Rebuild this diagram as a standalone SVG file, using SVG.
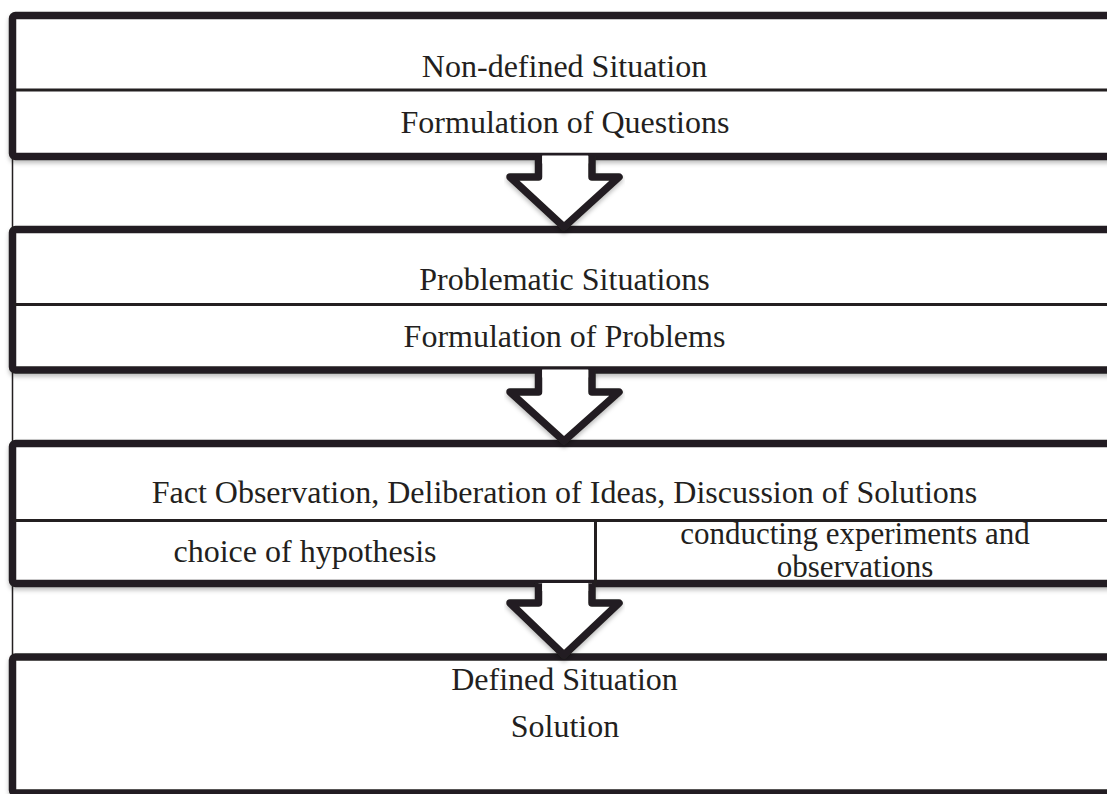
<svg xmlns="http://www.w3.org/2000/svg" width="1107" height="794" viewBox="0 0 1107 794">
<defs>
<filter id="sh" x="-5%" y="-5%" width="110%" height="120%">
<feDropShadow dx="0" dy="3" stdDeviation="2" flood-color="#000" flood-opacity="0.25"/>
</filter>
<style>
.box{fill:#fff;stroke:#231f20;stroke-width:7.5;stroke-linejoin:round;filter:url(#sh)}
.div{stroke:#231f20;stroke-width:3;fill:none}
.arrow{fill:#fff;stroke:#231f20;stroke-width:7.5;stroke-linejoin:round;filter:url(#sh)}
.cover{fill:#fff;stroke:none}
.t{font-family:"Liberation Serif","Times New Roman",serif;font-size:32px;fill:#231f20;text-anchor:middle}
.ts{font-size:31px}
.thin{stroke:#231f20;stroke-width:1.5}
</style>
</defs>
<rect width="1107" height="794" fill="#fff"/>
<line class="thin" x1="12.5" y1="15" x2="12.5" y2="792"/>
<g id="node1">
<rect class="box" x="12.5" y="15.5" width="1110" height="141" rx="3"/>
<line class="div" x1="14" y1="90" x2="1107" y2="90"/>
<text class="t" x="564.5" y="77">Non-defined Situation</text>
<text class="t" x="565" y="133">Formulation of Questions</text>
</g>
<g id="node2">
<rect class="box" x="12.5" y="229.5" width="1110" height="140.5" rx="3"/>
<line class="div" x1="14" y1="304.5" x2="1107" y2="304.5"/>
<text class="t" x="564.5" y="290">Problematic Situations</text>
<text class="t" x="564.5" y="347">Formulation of Problems</text>
</g>
<g id="node3">
<rect class="box" x="12.5" y="443.5" width="1110" height="140" rx="3"/>
<line class="div" x1="14" y1="520.5" x2="1107" y2="520.5"/>
<line class="div" x1="595.5" y1="519" x2="595.5" y2="583"/>
<text class="t" x="564.5" y="503">Fact Observation, Deliberation of Ideas, Discussion of Solutions</text>
<text class="t" x="305" y="562">choice of hypothesis</text>
<text class="t ts" x="855" y="544">conducting experiments and</text>
<text class="t ts" x="855" y="577">observations</text>
</g>
<g id="node4">
<rect class="box" x="12.5" y="657" width="1110" height="136" rx="3"/>
<text class="t" x="564.5" y="690">Defined Situation</text>
<text class="t" x="565" y="737">Solution</text>
</g>
<g id="connectors">
<g id="arrow1">
<path class="arrow" d="M538.5,156 L538.5,177 L510,177 L564,227 L619,177 L592,177 L592,156"/>
<rect class="cover" x="542.2" y="155.5" width="46" height="8"/>
</g>
<g id="arrow2">
<path class="arrow" d="M538.5,370 L538.5,392 L510,392 L564,441 L619,392 L592,392 L592,370"/>
<rect class="cover" x="542.2" y="369.5" width="46" height="8"/>
</g>
<g id="arrow3">
<path class="arrow" d="M538.5,583.5 L538.5,603 L510,603 L564,655 L619,603 L592,603 L592,583.5"/>
<rect class="cover" x="542.2" y="583" width="46" height="8"/>
</g>
</g>
</svg>
